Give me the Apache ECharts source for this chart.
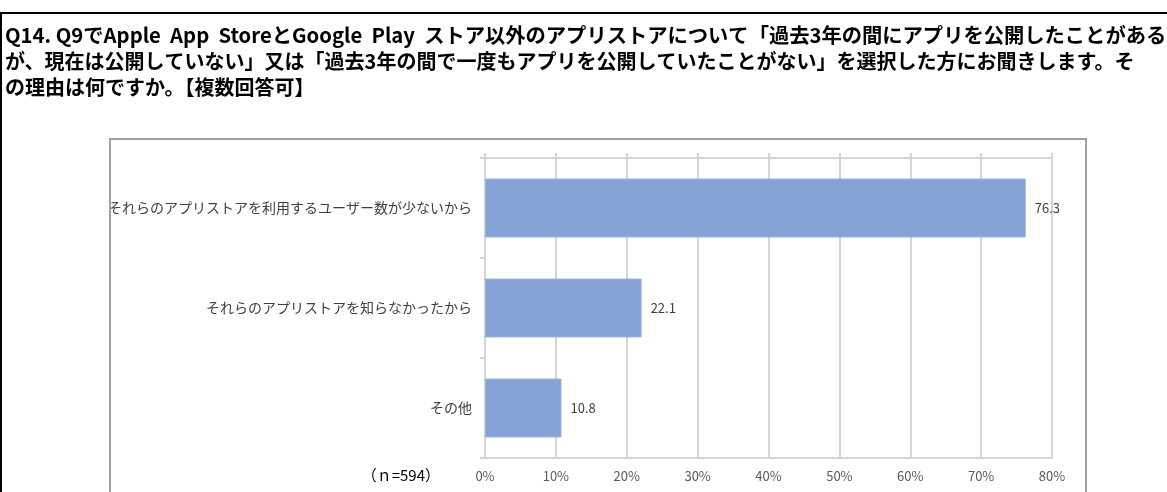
<!DOCTYPE html>
<html><head><meta charset="utf-8">
<script src="https://cdn.jsdelivr.net/npm/echarts@6/dist/echarts.min.js"></script>
<style>html,body{margin:0;padding:0;background:#fff;}#c{width:1167px;height:492px;}</style>
</head><body><div id="c"></div>
<script>
const titleLines = [
  'Q14. Q9でApple  App  StoreとGoogle  Play  ストア以外のアプリストアについて「過去3年の間にアプリを公開したことがある',
  'が、現在は公開していない」又は「過去3年の間で一度もアプリを公開していたことがない」を選択した方にお聞きします。そ',
  'の理由は何ですか。【複数回答可】'
];
const categories = [
  'それらのアプリストアを利用するユーザー数が少ないから',
  'それらのアプリストアを知らなかったから',
  'その他'
];
const values = [76.3, 22.1, 10.8];
const sampleNote = '（ｎ=594）';
const axisMin = 0, axisMax = 80, axisStep = 10;

const JP = '"Noto Sans CJK JP", "Noto Sans", sans-serif';
const chart = echarts.init(document.getElementById('c'), null, {renderer: 'canvas'});
const gridColor = '#d4d4d4';
const titleSizes = [20.3, 20, 20];
chart.setOption({
  animation: false,
  backgroundColor: '#fff',
  grid: {left: 485, right: 115, top: 158, bottom: 34, containLabel: false},
  xAxis: [{
    type: 'value', min: axisMin, max: axisMax, interval: axisStep, position: 'bottom',
    axisLine: {show: true, lineStyle: {color: gridColor, width: 2}},
    axisTick: {show: false},
    axisLabel: {formatter: '{value}%', color: '#595959', fontSize: 13, fontFamily: JP, margin: 12},
    splitLine: {show: true, lineStyle: {color: gridColor, width: 2}}
  }, {
    type: 'value', min: axisMin, max: axisMax, interval: axisStep, position: 'top',
    axisLine: {show: true, lineStyle: {color: gridColor, width: 2}},
    axisTick: {show: true, length: 5, lineStyle: {color: gridColor, width: 2}},
    axisLabel: {show: false}, splitLine: {show: false}
  }],
  yAxis: {
    type: 'category', data: categories, inverse: true,
    axisLine: {show: true, lineStyle: {color: gridColor, width: 2}},
    axisTick: {show: true, length: 5, lineStyle: {color: gridColor, width: 2}},
    axisLabel: {color: '#404040', fontSize: 14, fontFamily: JP, margin: 13}
  },
  series: [{
    type: 'bar', data: values, xAxisIndex: 0, barWidth: '59%',
    itemStyle: {color: '#84a3d4', borderColor: '#9db5de', borderWidth: 1},
    label: {show: true, position: 'right', distance: 9, color: '#404040', fontSize: 13,
      fontFamily: JP, formatter: p => p.value.toFixed(1)}
  }],
  graphic: [
    {type: 'rect', shape: {x: 1, y: 13, width: 1200, height: 520}, style: {fill: 'none', stroke: '#000', lineWidth: 2}, z: 10},
    {type: 'rect', shape: {x: 110, y: 139, width: 976, height: 420}, style: {fill: 'none', stroke: '#a0a0a0', lineWidth: 2}, z: 10},
    ...titleLines.map((t, i) => ({
      type: 'text', left: 5, top: 25 + i * 26,
      style: {text: t, fontSize: titleSizes[i], fontWeight: 'bold', fill: '#000', fontFamily: JP}
    })),
    {type: 'text', right: 1167 - 440, top: 468,
      style: {text: sampleNote, fontSize: 15, fill: '#000', fontFamily: JP}}
  ]
});
</script></body></html>
